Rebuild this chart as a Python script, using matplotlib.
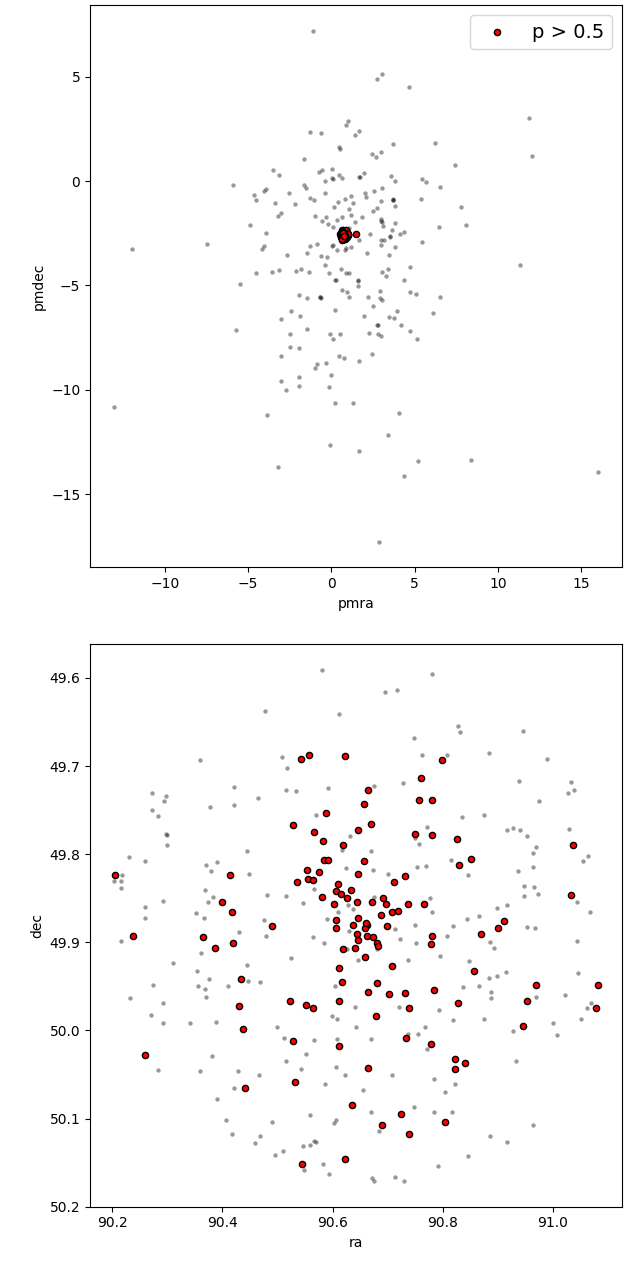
import numpy as np
import matplotlib
matplotlib.use("Agg")
import matplotlib.pyplot as plt

# field stars, proper motion (mas/yr)
pmra_field = [-1.10, 1.02, 0.88, -1.28, -0.60, 1.41, 1.68, 0.44, 0.53, -1.66,
              -3.51, -3.12, -0.76, -0.56, 0.06, 0.06, 0.10, 0.46, 0.63, -5.91,
              -1.64, -1.50, -0.40, 1.68, -4.66, -4.52, -4.06, -3.90, -2.55, -2.18,
              -1.28, -1.02, -0.38, -3.40, 1.16, 0.84, 1.27, 0.38, 0.16, 1.04,
              -3.18, -3.02, -0.99, -0.56, -0.32, -0.21, 0.32, 0.66, 1.16, 1.44,
              1.08, 0.12, -4.88, -3.92, -7.49, -11.96, -4.06, -4.14, -2.65, -1.28,
              -0.84, -1.44, 0.06, 0.10, 0.34, 0.81, 0.88, 1.18, -0.62, -0.25,
              -0.37, -4.51, -3.58, -3.14, -2.14, -1.80, -1.36, -0.15, 0.57, 0.90,
              1.08, 0.22, 0.26, -5.46, 1.59, 1.62, 1.59, 0.63,
              2.72, 3.03, 4.63, 11.87, 12.06, 3.67, 6.21, 2.44, 2.70, 2.95,
              7.43, 1.94, 1.72, 3.57, 3.84, 5.45, 5.69, 6.52, 3.06, 2.58,
              2.03, 2.05, 3.67, 3.71, 3.69, 3.83, 2.99, 5.39, 7.77, 2.52,
              2.72, 1.82, 2.95, 2.99, 3.01, 3.79, 3.11, 6.47, 8.09, 3.61,
              2.31, 4.35, 4.12, 3.51, 3.53, 3.00, 3.18, 1.66, 2.95, 3.83,
              5.43, 2.15, 3.46, 4.73, 11.30, 3.03, 3.28, 3.42, 4.37,
              -1.93, -1.48, -0.68, -0.66, -0.64, 0.96, 1.04, 0.20, -3.04, -2.42,
              -1.87, -5.71, -1.48, -2.48, -0.06, 0.10, 0.51, -2.48, -1.94, -3.00,
              0.47, 0.76, 1.66, -0.96, -0.84, -0.30, 0.00, -3.02, -2.74, -1.93,
              -1.94, -0.15, 0.22, 1.27, -13.03, -3.86, -0.08, 1.66, -3.22,
              4.73, 5.07, 6.52, 2.22, 2.93, 2.93, 3.06, 2.52, 3.96, 1.98,
              3.48, 3.73, 6.07, 2.76, 2.79, 4.18, 2.27, 2.81, 2.97, 4.73,
              5.11, 2.43, 4.08, 3.38, 5.19, 8.37, 4.37, 15.98, 2.85]
pmdec_field = [7.21, 2.87, 2.69, 2.34, 2.31, 2.19, 2.39, 1.63, 1.55, 1.05,
               0.54, 0.27, 0.42, 0.53, 0.56, 0.13, 0.10, 0.27, 0.16, -0.18,
               -0.21, -0.35, -0.01, 0.21, -0.68, -0.91, -0.49, -0.37, -0.59, -1.11,
               -0.81, -0.89, -0.56, -1.05, -0.72, -0.86, -1.04, -0.99, -1.24, -1.35,
               -1.66, -1.53, -1.69, -1.90, -1.74, -2.04, -1.88, -1.71, -1.61, -1.95,
               -2.23, -2.19, -2.09, -2.49, -3.00, -3.25, -3.12, -3.25, -3.56, -3.10,
               -3.03, -3.43, -3.10, -3.06, -3.32, -3.29, -3.21, -3.14, -3.57, -3.62,
               -4.00, -4.42, -4.37, -4.26, -4.31, -4.20, -4.37, -4.39, -4.21, -4.40,
               -4.42, -4.75, -4.72, -4.94, -4.79, -4.76, -5.02, -5.24,
               4.87, 5.15, 4.50, 3.03, 1.21, 1.76, 1.82, 1.29, 1.15, 1.40,
               0.78, 0.38, 0.21, 0.22, 0.00, 0.11, -0.03, -0.30, -0.32, -0.46,
               -0.57, -0.77, -0.85, -0.92, -0.90, -1.20, -0.97, -0.86, -1.23, -1.44,
               -1.29, -1.72, -1.82, -1.93, -1.95, -2.01, -2.15, -2.22, -2.12, -2.36,
               -2.54, -2.43, -2.55, -2.65, -2.67, -2.82, -2.81, -2.82, -3.06, -3.14,
               -2.92, -3.43, -3.54, -4.10, -4.02, -4.37, -4.53, -4.20, -4.75,
               -5.45, -5.60, -5.54, -5.56, -5.61, -5.30, -5.58, -6.19, -6.59, -6.25,
               -6.49, -7.14, -7.07, -7.34, -7.34, -7.56, -7.35, -7.93, -8.02, -8.37,
               -8.37, -8.46, -8.63, -8.98, -8.79, -8.74, -9.28, -9.60, -10.00, -9.39,
               -9.80, -9.89, -10.64, -10.64, -10.85, -11.20, -12.67, -12.93, -13.72,
               -5.30, -5.42, -5.58, -5.54, -5.28, -5.60, -5.71, -5.97, -6.21, -6.45,
               -6.52, -6.56, -6.32, -6.90, -6.92, -6.89, -7.27, -7.34, -7.42, -7.21,
               -7.59, -8.31, -11.12, -12.19, -13.40, -13.36, -14.15, -13.94, -17.29]

# field stars, position (deg)
ra_field = [90.580, 90.477, 90.612, 90.359, 90.508, 90.518, 90.422, 90.515, 90.534, 90.591,
            90.465, 90.273, 90.297, 90.294, 90.273, 90.284, 90.377, 90.421, 90.570, 90.298,
            90.300, 90.299, 90.230, 90.259, 90.444, 90.631, 90.617, 90.370, 90.391, 90.379,
            90.448, 90.625, 90.218, 90.204, 90.217, 90.217, 90.368, 90.384, 90.374, 90.293,
            90.259, 90.260, 90.352, 90.367, 90.481, 90.516, 90.547, 90.566, 90.476, 90.590,
            90.610, 90.628, 90.637, 90.617,
            90.781, 90.695, 90.717, 90.827, 90.831, 90.946, 90.747, 90.762, 90.808, 90.883,
            90.990, 90.675, 90.727, 90.938, 91.033, 91.028, 91.039, 90.975, 90.834, 90.875,
            90.916, 90.928, 90.940, 90.953, 91.029, 90.970, 90.964, 91.055, 91.064, 90.964,
            90.936, 90.772, 90.750, 90.757, 90.669, 90.815, 90.673, 90.701, 90.753, 90.770,
            90.845, 90.948, 90.965, 90.947, 90.973, 91.044, 91.068, 90.675, 90.776, 90.781,
            90.899, 90.917, 90.865, 90.844, 90.749, 90.819, 90.953, 90.968, 90.713,
            90.217, 90.430, 90.480, 90.564, 90.585, 90.629, 90.627, 90.647, 90.361, 90.311,
            90.525, 90.444, 90.355, 90.275, 90.356, 90.368, 90.376, 90.370, 90.411, 90.446,
            90.468, 90.233, 90.292, 90.270, 90.293, 90.341, 90.389, 90.499, 90.512, 90.567,
            90.605, 90.599, 90.609, 90.641, 90.642, 90.608, 90.381, 90.284, 90.359, 90.428,
            90.467, 90.552, 90.516, 90.543, 90.606, 90.623, 90.586, 90.421, 90.390, 90.406,
            90.418, 90.491, 90.559, 90.603, 90.607, 90.469, 90.459, 90.495, 90.511, 90.547,
            90.559, 90.567, 90.570, 90.549, 90.582, 90.593,
            90.722, 90.751, 90.807, 90.885, 90.893, 91.044, 90.680, 90.737, 90.795, 90.848,
            90.884, 90.898, 90.914, 90.865, 90.836, 90.888, 90.888, 91.045, 90.970, 91.022,
            91.069, 91.061, 91.050, 91.000, 91.008, 90.928, 90.874, 90.818, 90.793, 90.721,
            90.669, 90.737, 90.755, 90.767, 90.771, 90.933, 90.707, 90.784, 90.823, 90.804,
            90.655, 90.670, 90.747, 90.784, 90.816, 90.685, 90.964, 90.886, 90.916, 90.845,
            90.791, 90.671, 90.676, 90.713, 90.730]
dec_field = [49.591, 49.637, 49.641, 49.693, 49.690, 49.702, 49.724, 49.727, 49.728, 49.725,
             49.736, 49.730, 49.734, 49.740, 49.750, 49.757, 49.746, 49.744, 49.756, 49.777,
             49.778, 49.790, 49.803, 49.808, 49.796, 49.779, 49.795, 49.812, 49.809, 49.819,
             49.822, 49.816, 49.824, 49.830, 49.830, 49.838, 49.841, 49.848, 49.854, 49.853,
             49.860, 49.872, 49.867, 49.872, 49.846, 49.847, 49.855, 49.839, 49.875, 49.873,
             49.866, 49.858, 49.862, 49.845,
             49.595, 49.616, 49.614, 49.654, 49.661, 49.660, 49.668, 49.687, 49.688, 49.685,
             49.692, 49.723, 49.719, 49.717, 49.718, 49.731, 49.727, 49.740, 49.758, 49.756,
             49.773, 49.770, 49.773, 49.779, 49.771, 49.792, 49.799, 49.808, 49.802, 49.815,
             49.819, 49.769, 49.782, 49.788, 49.796, 49.807, 49.818, 49.822, 49.814, 49.813,
             49.824, 49.836, 49.837, 49.847, 49.845, 49.854, 49.865, 49.848, 49.850, 49.866,
             49.861, 49.858, 49.870, 49.874, 49.880, 49.882, 49.883, 49.884, 49.885,
             49.898, 49.888, 49.893, 49.894, 49.901, 49.887, 49.908, 49.920, 49.912, 49.923,
             49.918, 49.926, 49.933, 49.948, 49.949, 49.953, 49.942, 49.962, 49.950, 49.944,
             49.945, 49.963, 49.969, 49.982, 49.992, 49.992, 49.990, 49.996, 50.008, 50.011,
             49.949, 49.983, 49.987, 49.973, 49.996, 50.010, 50.029, 50.045, 50.046, 50.046,
             50.050, 50.027, 50.035, 50.044, 50.041, 50.050, 50.061, 50.065, 50.078, 50.102,
             50.117, 50.104, 50.096, 50.105, 50.101, 50.120, 50.128, 50.141, 50.137, 50.131,
             50.130, 50.125, 50.127, 50.158, 50.152, 50.163,
             49.896, 49.901, 49.893, 49.900, 49.906, 49.899, 49.908, 49.920, 49.915, 49.921,
             49.941, 49.938, 49.934, 49.949, 49.951, 49.956, 49.963, 49.935, 49.962, 49.960,
             49.969, 49.974, 49.987, 49.991, 50.005, 50.001, 49.987, 49.988, 49.977, 49.973,
             50.010, 50.004, 50.004, 49.996, 50.021, 50.035, 50.051, 50.055, 50.061, 50.070,
             50.068, 50.093, 50.087, 50.092, 50.092, 50.114, 50.107, 50.120, 50.127, 50.142,
             50.154, 50.167, 50.171, 50.166, 50.171]

# members with p > 0.5
ra_mem = [90.542, 90.557, 90.623, 90.589, 90.528, 90.567, 90.582, 90.619, 90.647, 90.584,
          90.591, 90.553, 90.575, 90.647, 90.205, 90.414, 90.556, 90.564, 90.536, 90.610,
          90.607, 90.615, 90.633, 90.627, 90.581, 90.603, 90.645, 90.400, 90.418, 90.490,
          90.606, 90.647, 90.637, 90.607,
          90.799, 90.761, 90.664, 90.657, 90.757, 90.780, 90.669, 90.750, 90.780, 90.826,
          91.036, 90.852, 90.829, 90.658, 90.732, 90.711, 91.033, 90.672, 90.692, 90.697,
          90.707, 90.718, 90.737, 90.766, 90.688, 90.663, 90.659, 90.698, 90.912, 90.900,
          90.238, 90.365, 90.387, 90.419, 90.644, 90.647, 90.641, 90.619, 90.611, 90.617,
          90.611, 90.434, 90.431, 90.437, 90.522, 90.552, 90.564, 90.528, 90.612, 90.259,
          90.442, 90.532, 90.636, 90.545, 90.622,
          90.661, 90.662, 90.674, 90.681, 90.682, 90.781, 90.779, 90.870, 90.659, 90.708,
          90.857, 90.680, 90.664, 90.703, 90.732, 90.784, 90.739, 90.827, 90.969, 91.081,
          90.952, 91.078, 90.945, 90.679, 90.734, 90.779, 90.823, 90.841, 90.822, 90.665,
          90.724, 90.690, 90.739, 90.804]
dec_mem = [49.692, 49.688, 49.689, 49.753, 49.767, 49.775, 49.785, 49.790, 49.773, 49.807,
           49.807, 49.818, 49.820, 49.822, 49.824, 49.824, 49.828, 49.829, 49.832, 49.834,
           49.842, 49.845, 49.841, 49.850, 49.848, 49.857, 49.854, 49.854, 49.866, 49.882,
           49.875, 49.872, 49.880, 49.884,
           49.693, 49.714, 49.727, 49.743, 49.738, 49.739, 49.766, 49.777, 49.778, 49.783,
           49.789, 49.806, 49.812, 49.808, 49.825, 49.831, 49.846, 49.854, 49.850, 49.856,
           49.865, 49.864, 49.857, 49.856, 49.869, 49.880, 49.884, 49.882, 49.876, 49.884,
           49.893, 49.894, 49.906, 49.901, 49.890, 49.897, 49.906, 49.908, 49.929, 49.945,
           49.966, 49.942, 49.972, 49.998, 49.966, 49.971, 49.974, 50.012, 50.018, 50.028,
           50.065, 50.059, 50.084, 50.152, 50.146,
           49.878, 49.893, 49.894, 49.901, 49.904, 49.893, 49.902, 49.890, 49.917, 49.927,
           49.932, 49.946, 49.956, 49.959, 49.957, 49.954, 49.974, 49.969, 49.948, 49.948,
           49.966, 49.974, 49.995, 49.983, 50.008, 50.015, 50.032, 50.037, 50.044, 50.043,
           50.095, 50.107, 50.117, 50.104]
pmra_mem = [0.72, 0.81, 0.65, 0.77, 0.88, 0.70, 0.62, 0.84, 0.75, 0.69,
            0.93, 0.58, 0.79, 0.74, 0.66, 0.86, 0.71, 0.80, 0.63, 0.76,
            0.90, 0.68, 0.73, 0.83, 0.55, 0.78, 0.97, 0.67, 0.82, 0.74,
            0.60, 0.87, 0.70, 0.79, 0.64, 0.85, 0.72, 0.76, 0.99, 0.61,
            0.81, 0.69, 0.75, 0.91, 0.57, 0.78, 0.84, 0.66, 0.73, 0.80,
            0.88, 0.63, 0.77, 0.70, 0.95, 0.68, 0.82, 0.74, 0.59, 0.86,
            0.71, 0.79, 0.65, 0.83, 0.76, 1.02, 0.69, 0.75, 0.89, 0.62,
            0.80, 0.73, 0.67, 0.85, 0.78, 0.52, 0.92, 0.71, 0.77, 0.64,
            0.84, 0.70, 0.81, 0.68, 0.96, 0.74, 0.60, 0.87, 0.72, 0.79,
            0.66, 0.83, 0.75, 0.90, 0.63, 0.78, 0.70, 0.85, 0.57, 0.76,
            0.82, 0.69, 0.94, 0.73, 0.65, 0.80, 0.77, 0.88, 0.61, 0.74,
            0.86, 0.71, 1.47, 0.79, 0.67, 0.83, 0.72, 0.76, 0.98, 0.64,
            0.81, 0.70, 0.75]
pmdec_mem = [-2.55, -2.48, -2.62, -2.51, -2.70, -2.44, -2.58, -2.66, -2.53, -2.39,
             -2.60, -2.47, -2.73, -2.56, -2.50, -2.42, -2.64, -2.57, -2.35, -2.68,
             -2.52, -2.61, -2.45, -2.76, -2.54, -2.49, -2.59, -2.67, -2.41, -2.55,
             -2.63, -2.50, -2.72, -2.46, -2.58, -2.53, -2.38, -2.65, -2.57, -2.51,
             -2.69, -2.44, -2.56, -2.62, -2.48, -2.79, -2.52, -2.60, -2.43, -2.66,
             -2.54, -2.71, -2.47, -2.58, -2.50, -2.63, -2.40, -2.57, -2.68, -2.53,
             -2.45, -2.61, -2.55, -2.74, -2.49, -2.59, -2.36, -2.64, -2.52, -2.57,
             -2.70, -2.46, -2.62, -2.51, -2.58, -2.55, -2.67, -2.43, -2.60, -2.82,
             -2.50, -2.65, -2.54, -2.39, -2.61, -2.48, -2.56, -2.72, -2.53, -2.44,
             -2.59, -2.66, -2.51, -2.57, -2.45, -2.63, -2.75, -2.52, -2.60, -2.47,
             -2.69, -2.55, -2.42, -2.62, -2.58, -2.50, -2.64, -2.33, -2.56, -2.71,
             -2.53, -2.61, -2.55, -2.48, -2.67, -2.58, -2.44, -2.63, -2.52, -2.77,
             -2.57, -2.49, -2.65]

fig, (ax1, ax2) = plt.subplots(2, 1, figsize=(6.3, 12.61), dpi=100)
plt.subplots_adjust(left=0.143, right=0.987, top=0.996, bottom=0.043, hspace=0.137)

# proper motion space
ax1.scatter(pmra_field + pmra_mem, pmdec_field + pmdec_mem, s=10, c="k", alpha=0.4, linewidths=0)
ax1.scatter(pmra_mem, pmdec_mem, s=20, c="r", edgecolors="k", label="p > 0.5")
ax1.set_xlabel("pmra")
ax1.set_ylabel("pmdec")
ax1.legend(loc="upper right", fontsize=14)

# sky positions
ax2.scatter(ra_field + ra_mem, dec_field + dec_mem, s=10, c="k", alpha=0.4, linewidths=0)
ax2.scatter(ra_mem, dec_mem, s=20, c="r", edgecolors="k")
ax2.set_xlabel("ra")
ax2.set_ylabel("dec")
ax2.invert_yaxis()

fig.savefig("out.png", dpi=100)
